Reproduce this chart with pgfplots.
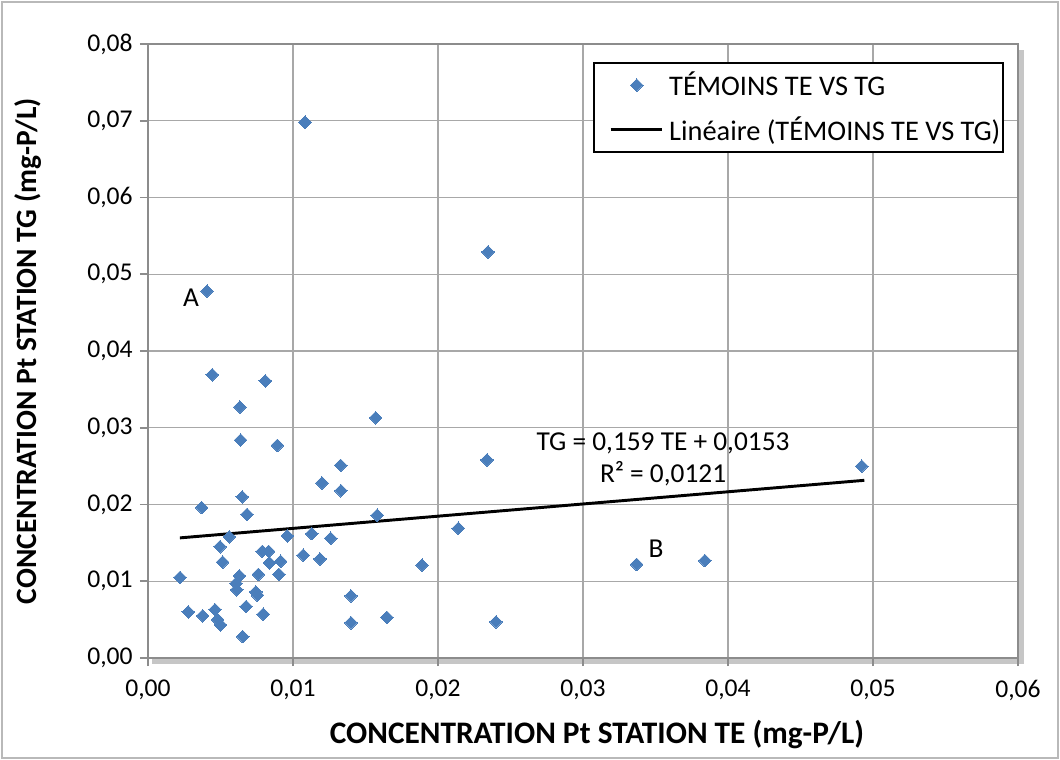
\documentclass[border=0pt]{standalone}
\usepackage{pgfplots}
\pgfplotsset{compat=1.18}
\usepackage{fontspec}
\setmainfont{Carlito}
\definecolor{ptblue}{HTML}{4A7EBB}
\definecolor{gridgray}{HTML}{A8A8A8}
\definecolor{axgray}{HTML}{8C8C8C}
\pgfplotsset{
  legmark/.style={legend image code/.code={\draw[##1] plot coordinates {(31pt,0pt)};\path (0pt,0pt) (52.25pt,0pt);}},
  legline/.style={legend image code/.code={\draw[##1] (11.5pt,0pt) -- (49.75pt,0pt);\path (0pt,0pt) (52.25pt,0pt);}},
}
\begin{document}
\begin{tikzpicture}
% outer chart frame
\useasboundingbox (-111pt,-76.5pt) rectangle (684pt,493.5pt);
\draw[gray!55, line width=0.9pt] (-109.5pt,-75pt) rectangle (682.5pt,492pt);
% plot-area shadow
\fill[gray!45] (652.5pt,-4.5pt) rectangle (657pt,456pt);
\fill[gray!45] (3pt,-4.5pt) rectangle (657pt,0pt);
\begin{axis}[
  at={(0pt,0pt)}, anchor=south west,
  scale only axis, width=652.5pt, height=460.5pt,
  xmin=0, xmax=0.06, ymin=0, ymax=0.08,
  xtick={0,0.01,...,0.06}, ytick={0,0.01,...,0.08},
  axis background/.style={fill=white},
  grid=major, major grid style={gridgray, line width=1pt},
  axis line style={axgray, line width=1.2pt},
  tick style={axgray, line width=1.2pt},
  tick align=outside, major tick length=6pt,
  xtick pos=bottom, ytick pos=left,
  scaled ticks=false,
  /pgf/number format/.cd, fixed, fixed zerofill, precision=2, use comma, assume math mode=true,
  /pgfplots/.cd,
  ticklabel style={font=\fontsize{19.2}{22}\selectfont},
  xticklabel style={yshift=-7pt},
  yticklabel style={xshift=-2pt},
  xlabel={\bfseries CONCENTRATION Pt STATION TE (mg-P/L)},
  ylabel={\bfseries CONCENTRATION Pt STATION TG (mg-P/L)},
  every axis x label/.style={at={(axis description cs:0.5,0)}, xshift=10.5pt, yshift=-57.75pt, anchor=center, font=\fontsize{23.5}{28}\selectfont},
  every axis y label/.style={at={(axis description cs:0,0.5)}, xshift=-90pt, anchor=center, rotate=90, font=\fontsize{22.1}{27}\selectfont},
  legend style={at={(0.5115,0.9707)}, anchor=north west, draw=black, line width=1.4pt,
     font=\fontsize{21.3}{25}\selectfont, inner xsep=0pt, inner ysep=4pt,
     nodes={inner xsep=2pt, inner ysep=3pt},
     row sep=8pt, cells={anchor=west}},
  clip=false,
]
\addplot[only marks, mark=square*, mark size=3.35pt, mark options={rotate=45, fill=ptblue, draw=ptblue, line width=0pt}, legmark]
  coordinates {
(0.00407,0.0478) (0.01083,0.0698) (0.02345,0.0529) (0.00443,0.0369)
(0.00809,0.0361) (0.00634,0.0327) (0.00639,0.0284) (0.00892,0.0277)
(0.01329,0.0251) (0.01200,0.0228) (0.01331,0.0218) (0.00650,0.0210)
(0.00370,0.0196) (0.00683,0.0187) (0.01570,0.0313) (0.02338,0.0258)
(0.01581,0.0186) (0.02140,0.0169) (0.04922,0.0250) (0.03370,0.0122)
(0.03840,0.0127) (0.01890,0.0121) (0.01400,0.0081) (0.01400,0.0046)
(0.01648,0.0053) (0.02400,0.0047) (0.00221,0.0105) (0.00278,0.0060)
(0.00377,0.0055) (0.00462,0.0063) (0.00480,0.0050) (0.00501,0.0043)
(0.00653,0.0028) (0.00676,0.0067) (0.00795,0.0057) (0.00743,0.0086)
(0.00754,0.0082) (0.00607,0.0097) (0.00612,0.0089) (0.00630,0.0107)
(0.00761,0.0109) (0.00903,0.0109) (0.00497,0.0145) (0.00515,0.0125)
(0.00561,0.0158) (0.00788,0.0139) (0.00832,0.0139) (0.00837,0.0124)
(0.00915,0.0126) (0.00961,0.0159) (0.01071,0.0134) (0.01129,0.0162)
(0.01186,0.0129) (0.01260,0.0156)
  };
\addlegendentry{TÉMOINS TE VS TG}
\addplot[black, line width=2.2pt, mark=none, legline]
  coordinates {(0.0022,0.01565) (0.0494,0.02315)};
\addlegendentry{Linéaire (TÉMOINS TE VS TG)\hspace{13pt}}
\node[font=\fontsize{20.5}{24}\selectfont] at (axis cs:0.00297,0.0469) {A};
\node[font=\fontsize{20.5}{24}\selectfont] at (axis cs:0.03503,0.0143) {B};
\node[font=\fontsize{20.5}{24}\selectfont] at (axis cs:0.03552,0.0280) {TG = 0,159 TE + 0,0153};
\node[font=\fontsize{20.5}{24}\selectfont] at (axis cs:0.03552,0.0240) {R² = 0,0121};
\end{axis}
\end{tikzpicture}
\end{document}
